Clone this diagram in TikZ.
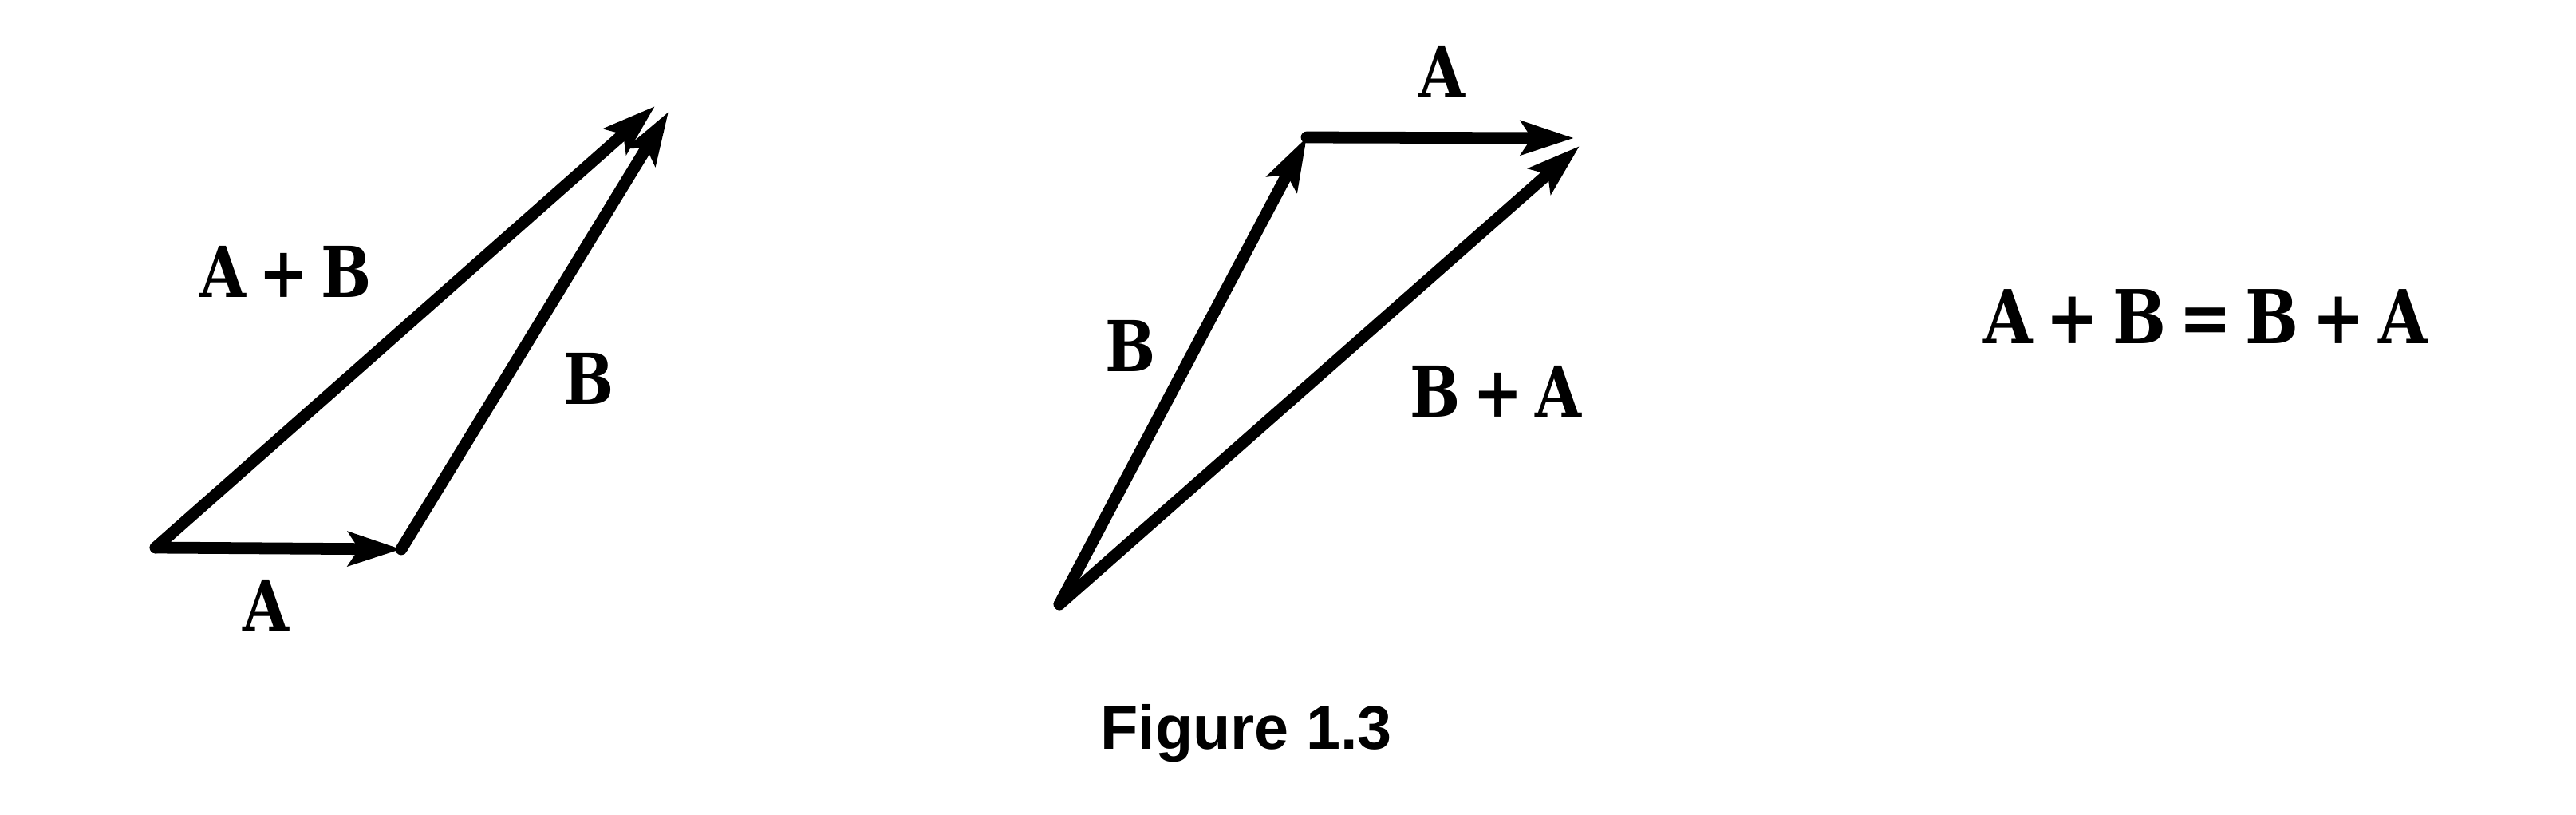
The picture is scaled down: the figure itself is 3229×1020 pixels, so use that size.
\documentclass[tikz,border=0pt]{standalone}
\usepackage{fontspec}
\setmainfont{DejaVu Serif}
\newfontfamily\labfont{DejaVu Serif}[FakeStretch=0.85]
\newfontfamily\capfont{Liberation Sans}
\usetikzlibrary{arrows.meta}
\newcommand\gp{\hspace{0.18em}}
\tikzset{
  vec/.style={line width=4.2pt, line cap=round, line join=round,
    -{Stealth[length=6.6mm,width=4.2mm,inset=1.3mm]}},
  lab/.style={font=\labfont\bfseries\fontsize{25}{30}\selectfont, inner sep=0pt, anchor=base},
  eqn/.style={font=\labfont\bfseries\fontsize{26.5}{32}\selectfont, inner sep=0pt, anchor=base},
  capt/.style={font=\capfont\bfseries\fontsize{22}{26}\selectfont, inner sep=0pt, anchor=base}
}
\begin{document}
\begin{tikzpicture}[x=0.01cm,y=-0.01cm]
\useasboundingbox (0,0) rectangle (3229,1020);
% left triangle
\coordinate (O1) at (195,686);
\coordinate (P1) at (503,688);
\coordinate (tAB) at (821,133);
\coordinate (tB) at (838,140);
\draw[vec] (O1) -- (P1);
\draw[vec] (P1) -- (tB);
\draw[vec] (O1) -- (tAB);
\node[lab] (lAB) at (358,372) {A\gp+\gp B};
\node[lab] (lB1) at (738,506) {B};
\node[lab] (lA1) at (333,790) {A};
% middle triangle
\coordinate (O2) at (1328,757);
\coordinate (P2) at (1638,172);
\coordinate (tA) at (1973,173);
\coordinate (tBA) at (1980,183);
\draw[vec] (O2) -- (P2);
\draw[vec] (P2) -- (tA);
\draw[vec] (O2) -- (tBA);
\node[lab] (lB2) at (1417,465) {B};
\node[lab] (lBA) at (1875,522) {B\gp+\gp A};
\node[lab] (lA2) at (1807,122) {A};
% equation
\node[eqn] (eq) at (2765,430) {A\gp+\gp B\gp=\gp B\gp+\gp A};
% caption
\node[capt] (cap) at (1562,938) {Figure 1.3};
\end{tikzpicture}
\end{document}
